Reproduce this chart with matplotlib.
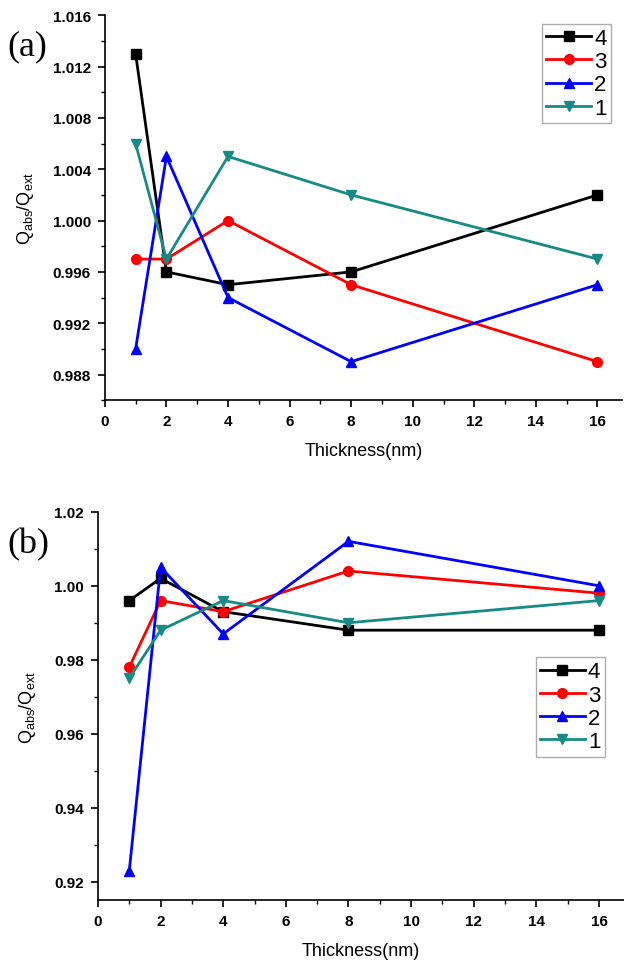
import matplotlib
matplotlib.use('Agg')
import matplotlib.pyplot as plt
from matplotlib.ticker import MultipleLocator

plt.rcParams['font.family'] = ['Liberation Sans', 'DejaVu Sans']

thickness = [1, 2, 4, 8, 16]
labels = ['4', '3', '2', '1']
colors = ['black', 'red', 'blue', '#168a85']
markers = ['s', 'o', '^', 'v']

# panel (a)
a_4 = [1.013, 0.996, 0.995, 0.996, 1.002]
a_3 = [0.997, 0.997, 1.000, 0.995, 0.989]
a_2 = [0.990, 1.005, 0.994, 0.989, 0.995]
a_1 = [1.006, 0.997, 1.005, 1.002, 0.997]

# panel (b)
b_4 = [0.996, 1.002, 0.993, 0.988, 0.988]
b_3 = [0.978, 0.996, 0.993, 1.004, 0.998]
b_2 = [0.923, 1.005, 0.987, 1.012, 1.000]
b_1 = [0.975, 0.988, 0.996, 0.990, 0.996]

fig = plt.figure(figsize=(6.24, 9.62), dpi=100)
ax1 = fig.add_axes([0.168, 0.583, 0.829, 0.400])
ax2 = fig.add_axes([0.157, 0.063, 0.843, 0.404])


def draw(ax, series, ylim, major, minor, legend_loc, fmt):
    for vals, lab, c, m in zip(series, labels, colors, markers):
        ax.plot(thickness, vals, color=c, marker=m, markersize=7,
                linewidth=2, label=lab)
    ax.set_xlim(0, 16.8)
    ax.set_ylim(*ylim)
    ax.xaxis.set_major_locator(MultipleLocator(2))
    ax.xaxis.set_minor_locator(MultipleLocator(1))
    ax.yaxis.set_major_locator(MultipleLocator(major))
    ax.yaxis.set_minor_locator(MultipleLocator(minor))
    ax.yaxis.set_major_formatter(plt.FormatStrFormatter(fmt))
    for s in ['top', 'right']:
        ax.spines[s].set_visible(False)
    for s in ['left', 'bottom']:
        ax.spines[s].set_linewidth(1.2)
    ax.tick_params(which='major', direction='out', length=5, width=1.2,
                   labelsize=11, pad=5)
    ax.tick_params(which='minor', direction='out', length=3, width=1)
    for t in ax.get_xticklabels() + ax.get_yticklabels():
        t.set_fontweight('bold')
    ax.set_xlabel('Thickness(nm)', fontsize=13, labelpad=10)
    ax.set_ylabel('Q$_{\\mathregular{abs}}$/Q$_{\\mathregular{ext}}$',
                  fontsize=13, labelpad=12)
    leg = ax.legend(loc=legend_loc, fontsize=16, frameon=True, fancybox=False,
                    handlelength=2.0, handletextpad=0.15, borderpad=0.2,
                    labelspacing=0.1, borderaxespad=0, edgecolor='#999999')
    leg.get_frame().set_linewidth(1)


draw(ax1, [a_4, a_3, a_2, a_1], (0.986, 1.016), 0.004, 0.002,
     (0.845, 0.72), '%.3f')
draw(ax2, [b_4, b_3, b_2, b_1], (0.915, 1.02), 0.02, 0.01,
     (0.832, 0.37), '%.2f')

fig.text(0.012, 0.943, '(a)', fontsize=26, family='Liberation Serif')
fig.text(0.012, 0.425, '(b)', fontsize=26, family='Liberation Serif')

fig.savefig('out.png', dpi=100)
